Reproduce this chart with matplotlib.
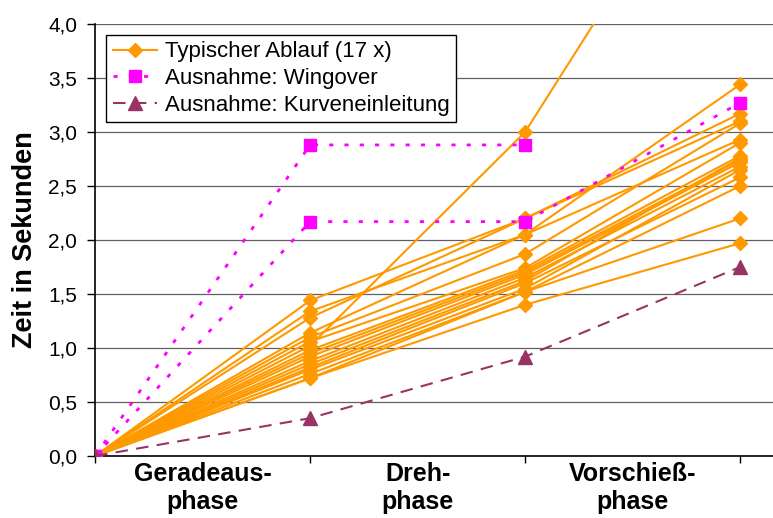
import numpy as np
import matplotlib
matplotlib.use("Agg")
import matplotlib.pyplot as plt
from matplotlib.ticker import FixedLocator, NullFormatter, FixedFormatter

plt.rcParams['font.family'] = ['Liberation Sans', 'DejaVu Sans']

# Messzeitpunkte: Start, Ende Geradeausphase, Ende Drehphase, Ende Vorschiessphase
x_points = [0, 1, 2, 3]
phase_labels = ["Geradeaus-\nphase", "Dreh-\nphase", "Vorschieß-\nphase"]

# typischer Ablauf, 17 Wiederholungen (Zeit am Ende jeder Phase)
typ_geradeaus = [1.44, 1.34, 1.28, 1.14, 1.10, 1.06, 1.02, 0.98, 0.95,
                 0.92, 0.88, 0.85, 0.82, 0.80, 0.76, 0.72, 0.72]
typ_dreh = [2.20, 2.05, 2.20, 2.05, 1.87, 1.74, 3.00, 1.72, 1.70,
            1.68, 1.65, 1.62, 1.60, 1.55, 1.52, 1.52, 1.40]
typ_vorschiess = [3.17, 3.44, 3.10, 2.93, 3.08, 2.90, 6.14, 2.78, 2.74,
                  2.72, 2.68, 2.76, 2.58, 2.65, 2.50, 2.20, 1.97]

# Ausnahmen
wingover_1 = [0.0, 2.88, 2.88, np.nan]
wingover_2 = [0.0, 2.17, 2.17, 3.27]
kurve = [0.0, 0.35, 0.92, 1.75]

orange = '#FF9900'
magenta = '#FF00FF'
plum = '#993366'

fig = plt.figure(figsize=(7.73, 5.18), dpi=100)
ax = fig.add_axes([0.123, 0.1197, 0.877, 0.834])

for i in range(len(typ_geradeaus)):
    y = [0.0, typ_geradeaus[i], typ_dreh[i], typ_vorschiess[i]]
    ax.plot(x_points, y, color=orange, lw=1.5, marker='D', markersize=7.5,
            markeredgecolor=orange, label="Typischer Ablauf (17 x)" if i == 0 else None,
            zorder=3)

ax.plot(x_points, wingover_1, color=magenta, lw=2, ls=(0, (1.5, 4)), marker='s',
        markersize=9, markeredgecolor=magenta, label="Ausnahme: Wingover", zorder=4)
ax.plot(x_points, wingover_2, color=magenta, lw=2, ls=(0, (1.5, 4)), marker='s',
        markersize=9, markeredgecolor=magenta, zorder=4)
ax.plot(x_points, kurve, color=plum, lw=1.5, ls=(0, (6, 4)), marker='^',
        markersize=10, markeredgecolor=plum, label="Ausnahme: Kurveneinleitung", zorder=4)

ax.set_xlim(0, 3.153)
ax.set_ylim(0, 4.0)

yticks = np.arange(0, 4.01, 0.5)
ax.set_yticks(yticks)
ax.set_yticklabels([f"{v:.1f}".replace('.', ',') for v in yticks])
ax.yaxis.grid(True, color='#606060', lw=0.9)
ax.set_axisbelow(True)

# Punkte auf den Teilstrichen, Phasennamen dazwischen
ax.xaxis.set_major_locator(FixedLocator(x_points))
ax.xaxis.set_major_formatter(NullFormatter())
ax.xaxis.set_minor_locator(FixedLocator([0.5, 1.5, 2.5]))
ax.xaxis.set_minor_formatter(FixedFormatter(phase_labels))
ax.tick_params(axis='x', which='major', direction='out', length=5, width=1)
ax.tick_params(axis='x', which='minor', length=0, pad=4, labelsize=18)
for lab in ax.get_xticklabels(minor=True):
    lab.set_fontweight('bold')
    lab.set_linespacing(1.25)
ax.tick_params(axis='y', direction='out', length=6, width=1, labelsize=15, pad=7)

for side in ['top', 'right']:
    ax.spines[side].set_visible(False)
ax.spines['left'].set_linewidth(1.2)
ax.spines['bottom'].set_linewidth(1.2)

ax.set_ylabel("Zeit in Sekunden", fontsize=19.5, fontweight='bold', labelpad=7)

leg = ax.legend(loc='upper left', bbox_to_anchor=(0.016, 0.975), borderaxespad=0,
                fancybox=False, framealpha=1, edgecolor='black', fontsize=16,
                handlelength=2.0, handletextpad=0.35, labelspacing=0.25,
                borderpad=0.3)
leg.get_frame().set_linewidth(1)

fig.savefig("out.png", dpi=100)
